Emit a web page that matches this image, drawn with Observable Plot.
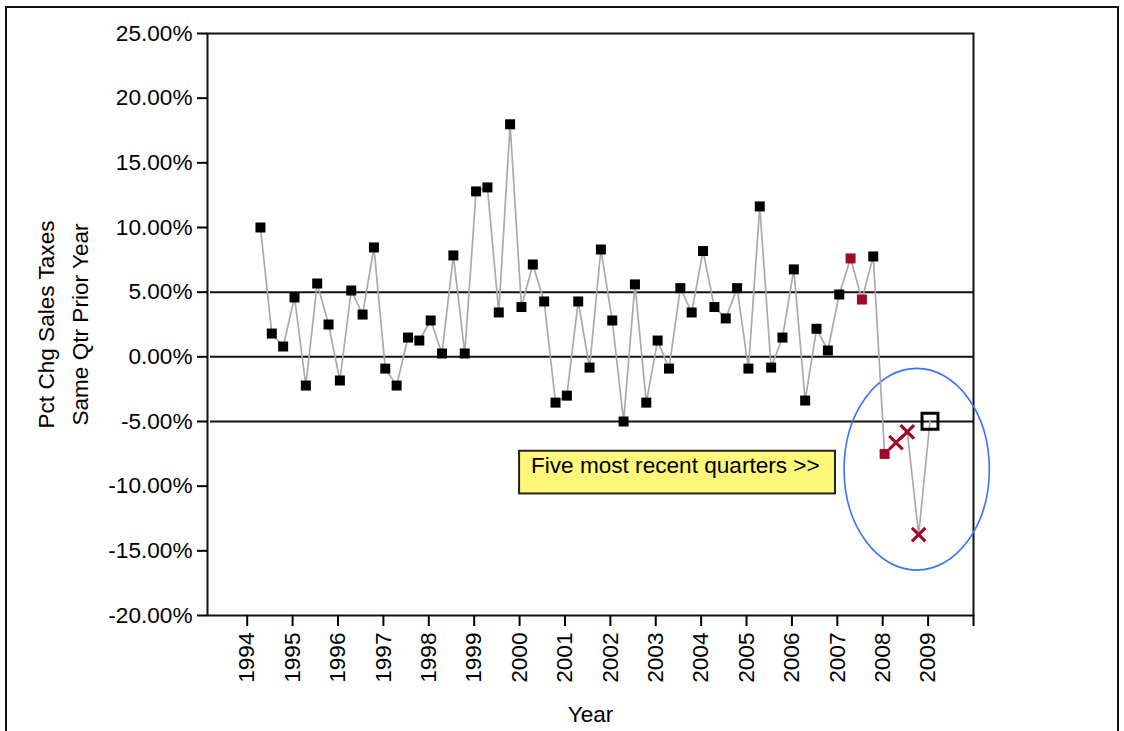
<!DOCTYPE html>
<html><head><meta charset="utf-8">
<script src="https://cdn.jsdelivr.net/npm/d3@7"></script>
<script src="https://cdn.jsdelivr.net/npm/@observablehq/plot@0.6"></script>
<style>
html,body{margin:0;padding:0;background:#fff;overflow:hidden;width:1124px;height:731px}
#wrap{position:relative;width:1124px;height:731px}
#outer{position:absolute;left:5px;top:6px;width:1110px;height:800px;border:2px solid #111;pointer-events:none}
</style></head><body><div id="wrap"><div id="chart"></div><div id="outer"></div></div>
<script>
// ---- data ----
const quarters = [
  "1994Q2","1994Q3","1994Q4",
  "1995Q1","1995Q2","1995Q3","1995Q4",
  "1996Q1","1996Q2","1996Q3","1996Q4",
  "1997Q1","1997Q2","1997Q3","1997Q4",
  "1998Q1","1998Q2","1998Q3","1998Q4",
  "1999Q1","1999Q2","1999Q3","1999Q4",
  "2000Q1","2000Q2","2000Q3","2000Q4",
  "2001Q1","2001Q2","2001Q3","2001Q4",
  "2002Q1","2002Q2","2002Q3","2002Q4",
  "2003Q1","2003Q2","2003Q3","2003Q4",
  "2004Q1","2004Q2","2004Q3","2004Q4",
  "2005Q1","2005Q2","2005Q3","2005Q4",
  "2006Q1","2006Q2","2006Q3","2006Q4",
  "2007Q1","2007Q2","2007Q3","2007Q4",
  "2008Q1","2008Q2","2008Q3","2008Q4",
  "2009Q1"
];
const pctChange = [
  10.00, 1.80, 0.80,
  4.59, -2.22, 5.67, 2.50,
  -1.83, 5.13, 3.27, 8.46,
  -0.91, -2.22, 1.49, 1.26,
  2.81, 0.26, 7.84, 0.26,
  12.79, 13.10, 3.43, 17.98,
  3.85, 7.14, 4.28, -3.54,
  -3.00, 4.28, -0.83, 8.30,
  2.81, -5.00, 5.60, -3.54,
  1.26, -0.91, 5.31, 3.43,
  8.18, 3.85, 2.97, 5.31,
  -0.91, 11.63, -0.83, 1.49,
  6.76, -3.38, 2.17, 0.49,
  4.82, 7.61, 4.43, 7.76,
  -7.51, -6.63, -5.80, -13.75,
  -4.98
];
const redSquareQuarters = ["2007Q2", "2007Q3", "2008Q1"];
const redCrossQuarters = ["2008Q2", "2008Q3", "2008Q4"];
const latestQuarter = ["2009Q1"];
const yearTicks = [1994,1995,1996,1997,1998,1999,2000,2001,2002,2003,2004,2005,2006,2007,2008,2009];
const yearAxisEnd = 2010;
const yTicks = [-20, -15, -10, -5, 0, 5, 10, 15, 20, 25];
const referenceLevels = [5, 0, -5];
const yTitle = "Pct Chg Sales Taxes\nSame Qtr Prior Year";
const xTitle = "Year";
const noteText = "Five most recent quarters >>";
// annotation placement (data space)
const noteBox = {x1: 2000.0, x2: 2006.96, y1: -7.3, y2: -10.6};
const noteTextPos = {x: 2000.25, y: -8.45};
const circleNote = {cx: 2008.76, cy: -8.73, rx: 1.60, ry: 7.80};

// ---- build ----
const rows = quarters.map((q, i) => ({
  q,
  t: +q.slice(0, 4) + (+q.slice(5) - 1) / 4 + 1 / 24,
  v: pctChange[i]
}));
const black = rows.filter(d => !redSquareQuarters.includes(d.q) && !redCrossQuarters.includes(d.q) && !latestQuarter.includes(d.q));
const redSq = rows.filter(d => redSquareQuarters.includes(d.q));
const redX = rows.filter(d => redCrossQuarters.includes(d.q));
const latest = rows.filter(d => latestQuarter.includes(d.q));
const RED = "#9e0b28";
const FS = 22.6;

const ellipseMark = (index, scales) => {
  const sx = scales.x, sy = scales.y;
  const e = document.createElementNS("http://www.w3.org/2000/svg", "ellipse");
  const cx = sx(circleNote.cx), cy = sy(circleNote.cy);
  e.setAttribute("cx", cx);
  e.setAttribute("cy", cy);
  e.setAttribute("rx", Math.abs(sx(circleNote.cx + circleNote.rx) - cx));
  e.setAttribute("ry", Math.abs(sy(circleNote.cy + circleNote.ry) - cy));
  e.setAttribute("fill", "none");
  e.setAttribute("stroke", "#3b73f0");
  e.setAttribute("stroke-width", "1.6");
  const g = document.createElementNS("http://www.w3.org/2000/svg", "g");
  g.appendChild(e);
  return g;
};

const chart = Plot.plot({
  width: 1124,
  height: 731,
  marginLeft: 207,
  marginRight: 151,
  marginTop: 33,
  marginBottom: 116,
  style: {fontSize: FS + "px", fontFamily: "'Liberation Sans', Arial, sans-serif", background: "white", color: "black"},
  x: {domain: [1993.125, yearAxisEnd]},
  y: {domain: [-20, 25]},
  marks: [
    Plot.ruleY(referenceLevels, {stroke: "#111", strokeWidth: 2, insetLeft: 3}),
    Plot.frame({stroke: "#111", strokeWidth: 2}),
    Plot.axisY({ticks: yTicks, tickFormat: d => d.toFixed(2) + "%", tickSize: 10, tickPadding: 5, strokeWidth: 2, label: null}),
    Plot.axisX({ticks: [...yearTicks, yearAxisEnd], tickFormat: d => yearTicks.includes(d) ? String(d) : "", tickSize: 11, tickPadding: 6, tickRotate: -90, strokeWidth: 2, label: null}),
    Plot.text([yTitle], {frameAnchor: "left", text: d => d, rotate: -90, textAnchor: "middle", dx: -147, lineHeight: 1.48, fontSize: FS}),
    Plot.text([xTitle], {frameAnchor: "bottom", text: d => d, dy: 99, lineAnchor: "middle", fontSize: FS}),
    Plot.rect([noteBox], {x1: "x1", x2: "x2", y1: "y1", y2: "y2", fill: "#fff77a", stroke: "#222", strokeWidth: 2}),
    Plot.text([noteText], {x: () => noteTextPos.x, y: () => noteTextPos.y, text: d => d, textAnchor: "start", fontSize: FS}),
    ellipseMark,
    Plot.line(rows, {x: "t", y: "v", stroke: "#aaaaaa", strokeWidth: 1.7}),
    Plot.dot(black, {x: "t", y: "v", symbol: "square", r: 5.64, fill: "black", stroke: "none"}),
    Plot.dot(redSq, {x: "t", y: "v", symbol: "square", r: 5.64, fill: RED, stroke: "none"}),
    Plot.dot(redX, {x: "t", y: "v", symbol: "times", r: 6.2, stroke: RED, strokeWidth: 3.2, fill: "none"}),
    Plot.dot(latest, {x: "t", y: "v", symbol: "square", r: 9, stroke: "black", strokeWidth: 3, fill: "none"})
  ]
});
document.getElementById("chart").appendChild(chart);
</script></body></html>
